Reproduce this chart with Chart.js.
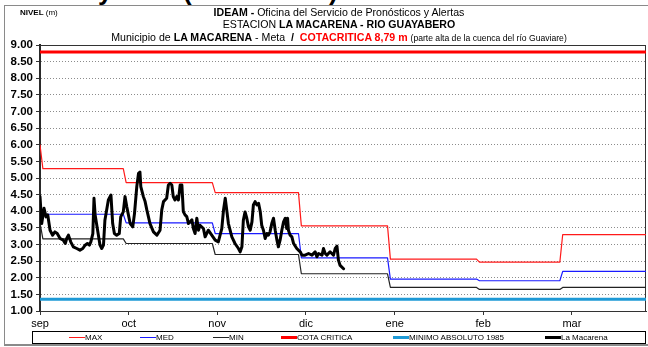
<!DOCTYPE html>
<html lang="es">
<head>
<meta charset="UTF-8">
<title>Nivel La Macarena - Río Guayabero</title>
<script src="https://cdn.jsdelivr.net/npm/chart.js"></script>
<style>
    body { margin: 0; background: #fff; }
    #marco { position: relative; width: 648px; height: 347px; overflow: hidden; font-family: "Liberation Sans", Arial, sans-serif; color: #000; }
    #borde { position: absolute; left: 4px; top: 5px; width: 660px; height: 338px; border-left: 1px solid #8a8a8a; border-top: 1px solid #8a8a8a; border-bottom: 2px solid #8a8a8a; }
    #grafico { position: absolute; left: 0; top: 0; }
    .grande { position: absolute; top: -22px; font-size: 26px; line-height: 26px; font-weight: bold; }
    .titulo { position: absolute; left: 0; width: 678px; text-align: center; font-size: 10.6px; white-space: nowrap; line-height: 12px; }
    .rojo { color: #ff0000; }
    .peq { font-size: 8.6px; }
    #nivel { position: absolute; left: 20px; top: 8px; font-size: 8px; }
    #leyenda { position: absolute; left: 32px; top: 331px; width: 612px; height: 11px; border: 1px solid #000; }
    .item { position: absolute; top: 0; height: 11px; font-size: 8px; line-height: 11px; white-space: nowrap; }
    .linea { display: inline-block; width: 16px; vertical-align: middle; margin-top: -1px; }
</style>
</head>
<body>
<div id="marco">
    <div id="borde"></div>
    <div class="grande" style="left:98px">y</div>
    <div class="grande" style="left:183px">(</div>
    <div class="grande" style="left:329px">)</div>
    <canvas id="grafico" width="648" height="347"></canvas>
    <div id="nivel"><b>NIVEL</b> (m)</div>
    <div class="titulo" style="top:6px"><b>IDEAM -</b> Oficina del Servicio de Pronósticos y Alertas</div>
    <div class="titulo" style="top:18px">ESTACION <b>LA MACARENA - RIO GUAYABERO</b></div>
    <div class="titulo" style="top:31px">Municipio de <b>LA MACARENA</b> - Meta <b>&nbsp;/&nbsp;</b> <b class="rojo">COTACRITICA 8,79 m</b> <span class="peq">(parte alta de la cuenca del río Guaviare)</span></div>
    <div id="leyenda"></div>
</div>

<script>
    // dias contados desde el 1 de septiembre
    const inicioMes = [0, 30, 61, 91, 122, 153, 182];
    const diaFinal = 211;
    const tickDias = [0, 30.9, 61.7, 92.6, 123.5, 154.3, 185.2];
    const tickMeses = ['sep', 'oct', 'nov', 'dic', 'ene', 'feb', 'mar'];

    // niveles mensuales historicos (m)
    const maxMes = [5.28, 4.86, 4.56, 3.56, 2.56, 2.47, 3.30];
    const medMes = [3.91, 3.65, 3.33, 2.60, 1.96, 1.91, 2.19];
    const minMes = [3.17, 3.03, 2.70, 2.12, 1.71, 1.65, 1.71];
    const maxInicio = 6.00;
    const medInicio = 4.10;
    const minInicio = 3.65;

    const cotaCritica = 8.79;
    const minimoAbsoluto = 1.35;

    // lecturas de la estacion La Macarena
    const diasMacarena = [
        0, 0.6, 1.4, 2.1, 2.7, 3.5, 4.4, 5.2, 6.0, 7.0, 8.1, 8.8, 9.3, 9.9, 10.7, 11.6, 12.8, 13.9, 14.9, 15.7,
        16.5, 17.2, 17.7, 18.4, 18.8, 19.2, 20.9, 21.5, 22.1, 22.6, 23.8, 24.7, 25.3, 25.9, 26.7, 27.6, 28.1, 29.0, 29.6, 30.2,
        31.4, 32.3, 32.9, 33.7, 34.3, 34.8, 35.1, 36.0, 36.6, 37.2, 38.3, 39.5, 40.7, 41.8, 42.4, 43.0, 44.1, 44.7, 45.3, 45.9,
        46.4, 47.0, 47.6, 48.2, 48.8, 49.4, 49.9, 50.5, 51.1, 51.7, 52.9, 53.4, 54.0, 54.6, 55.2, 55.7, 56.9, 57.5, 58.6, 59.8,
        61.0, 62.1, 62.7, 63.3, 63.9, 64.5, 65.1, 65.6, 66.8, 67.9, 69.1, 69.7, 70.3, 70.8, 71.4, 72.0, 72.6, 73.2, 73.8, 74.3,
        74.9, 75.5, 76.1, 76.7, 77.2, 77.8, 78.4, 79.0, 79.5, 80.1, 80.7, 81.3, 81.9, 82.5, 83.0, 83.6, 84.2, 84.8, 85.4, 85.9,
        86.2, 86.5, 87.1, 87.7, 88.3, 89.4, 90.6, 91.2, 92.3, 93.5, 94.7, 95.8, 96.4, 97.0, 98.2, 98.7, 99.3, 99.9, 101.0, 101.6,
        102.2, 102.8, 103.4, 103.9, 104.5, 105.7
    ];
    const nivelMacarena = [
        4.44, 3.63, 4.09, 3.83, 3.89, 3.43, 3.28, 3.38, 3.33, 3.18, 3.13, 3.03, 3.18, 3.28, 3.08, 2.93, 2.88, 2.83, 2.88, 2.98,
        3.03, 2.98, 3.08, 3.33, 4.39, 3.89, 2.98, 2.88, 2.98, 3.73, 4.34, 4.49, 3.63, 3.33, 3.28, 3.33, 3.83, 3.98, 4.44, 4.14,
        3.63, 3.53, 3.93, 4.74, 5.14, 5.18, 4.74, 4.44, 4.29, 4.04, 3.63, 3.38, 3.28, 3.43, 4.04, 4.29, 4.39, 4.79, 4.84, 4.79,
        4.44, 4.34, 4.44, 4.34, 4.79, 4.79, 3.99, 3.89, 3.84, 3.63, 3.74, 3.48, 3.33, 3.79, 3.43, 3.58, 3.48, 3.23, 3.43, 3.28,
        3.13, 3.08, 3.28, 3.48, 4.04, 4.39, 3.98, 3.63, 3.23, 3.03, 2.88, 2.78, 2.93, 3.73, 3.98, 3.79, 3.53, 3.43, 3.68, 4.19,
        4.29, 4.19, 4.24, 3.98, 3.58, 3.43, 3.18, 3.33, 3.28, 3.38, 3.63, 3.79, 3.43, 3.13, 2.93, 3.13, 3.43, 3.68, 3.79, 3.48,
        3.79, 3.43, 3.28, 3.23, 3.03, 2.88, 2.78, 2.68, 2.68, 2.73, 2.68, 2.78, 2.63, 2.73, 2.68, 2.88, 2.73, 2.68, 2.78, 2.73,
        2.68, 2.88, 2.95, 2.53, 2.37, 2.27
    ];

    // escalon por mes: primer dia a ultimo dia con el mismo valor
    function escalones(valores, inicial) {
        const pts = [{ x: 0, y: inicial }];
        valores.forEach((v, i) => {
            const desde = i === 0 ? 1 : inicioMes[i];
            const hasta = i < valores.length - 1 ? inicioMes[i + 1] - 1 : diaFinal;
            pts.push({ x: desde, y: v }, { x: hasta, y: v });
        });
        return pts;
    }

    const series = [
        { label: 'MAX', data: escalones(maxMes, maxInicio), borderColor: '#ff1a1a', borderWidth: 1.2, order: 5 },
        { label: 'MED', data: escalones(medMes, medInicio), borderColor: '#1a1aff', borderWidth: 1.2, order: 4 },
        { label: 'MIN', data: escalones(minMes, minInicio), borderColor: '#222222', borderWidth: 1.2, order: 3 },
        { label: 'COTA CRITICA', data: [{ x: 0, y: cotaCritica }, { x: diaFinal, y: cotaCritica }], borderColor: '#ff0000', borderWidth: 3, order: 2 },
        { label: 'MINIMO ABSOLUTO 1985', data: [{ x: 0, y: minimoAbsoluto }, { x: diaFinal, y: minimoAbsoluto }], borderColor: '#1e9ad6', borderWidth: 3, order: 1 },
        { label: 'La Macarena', data: diasMacarena.map((d, i) => ({ x: d, y: nivelMacarena[i] })), borderColor: '#000000', borderWidth: 3, order: 0 }
    ];

    // marco del area de trazado
    const marcoArea = {
        id: 'marcoArea',
        beforeDatasetsDraw(chart) {
            const a = chart.chartArea;
            const c = chart.ctx;
            c.save();
            c.strokeStyle = '#333';
            c.lineWidth = 1;
            c.strokeRect(a.left, a.top + 0.5, a.right - a.left - 0.5, a.bottom - a.top);
            c.restore();
        }
    };

    const ctx = document.getElementById('grafico').getContext('2d');
    new Chart(ctx, {
        type: 'line',
        data: { datasets: series },
        options: {
            responsive: false,
            animation: false,
            layout: { padding: { top: 45, right: 2, left: 0, bottom: 0 } },
            elements: { point: { radius: 0 }, line: { tension: 0, borderJoinStyle: 'round', borderCapStyle: 'round' } },
            plugins: { legend: { display: false }, tooltip: { enabled: false } },
            scales: {
                x: {
                    type: 'linear',
                    min: 0,
                    max: diaFinal,
                    afterBuildTicks: s => { s.ticks = tickDias.map(v => ({ value: v })); },
                    afterFit: s => { s.height = 36; },
                    ticks: {
                        callback: (v, i) => tickMeses[i],
                        autoSkip: false,
                        maxRotation: 0,
                        padding: 2,
                        color: '#000',
                        font: { family: 'Liberation Sans', size: 11 }
                    },
                    grid: { drawOnChartArea: false, tickLength: 4, tickColor: '#333' },
                    border: { color: '#333', width: 1 }
                },
                y: {
                    min: 1,
                    max: 9,
                    afterFit: s => { s.width = 40; },
                    ticks: {
                        stepSize: 0.5,
                        autoSkip: false,
                        callback: v => v.toFixed(2),
                        padding: 3,
                        color: '#000',
                        font: { family: 'Liberation Sans', size: 11.5, weight: 'bold' }
                    },
                    grid: { color: '#8c8c8c', lineWidth: 1, tickLength: 4, tickColor: '#333' },
                    border: { color: '#222', width: 2, dash: [1, 2] }
                }
            }
        },
        plugins: [marcoArea]
    });

    // leyenda bajo el eje
    const leyendaX = [36, 107, 180, 248, 360, 512];
    const leyenda = document.getElementById('leyenda');
    series.forEach((s, i) => {
        const item = document.createElement('div');
        item.className = 'item';
        item.style.left = leyendaX[i] + 'px';
        const linea = document.createElement('span');
        linea.className = 'linea';
        linea.style.borderTop = s.borderWidth + 'px solid ' + s.borderColor;
        item.appendChild(linea);
        item.appendChild(document.createTextNode(s.label));
        leyenda.appendChild(item);
    });
</script>
</body>
</html>
